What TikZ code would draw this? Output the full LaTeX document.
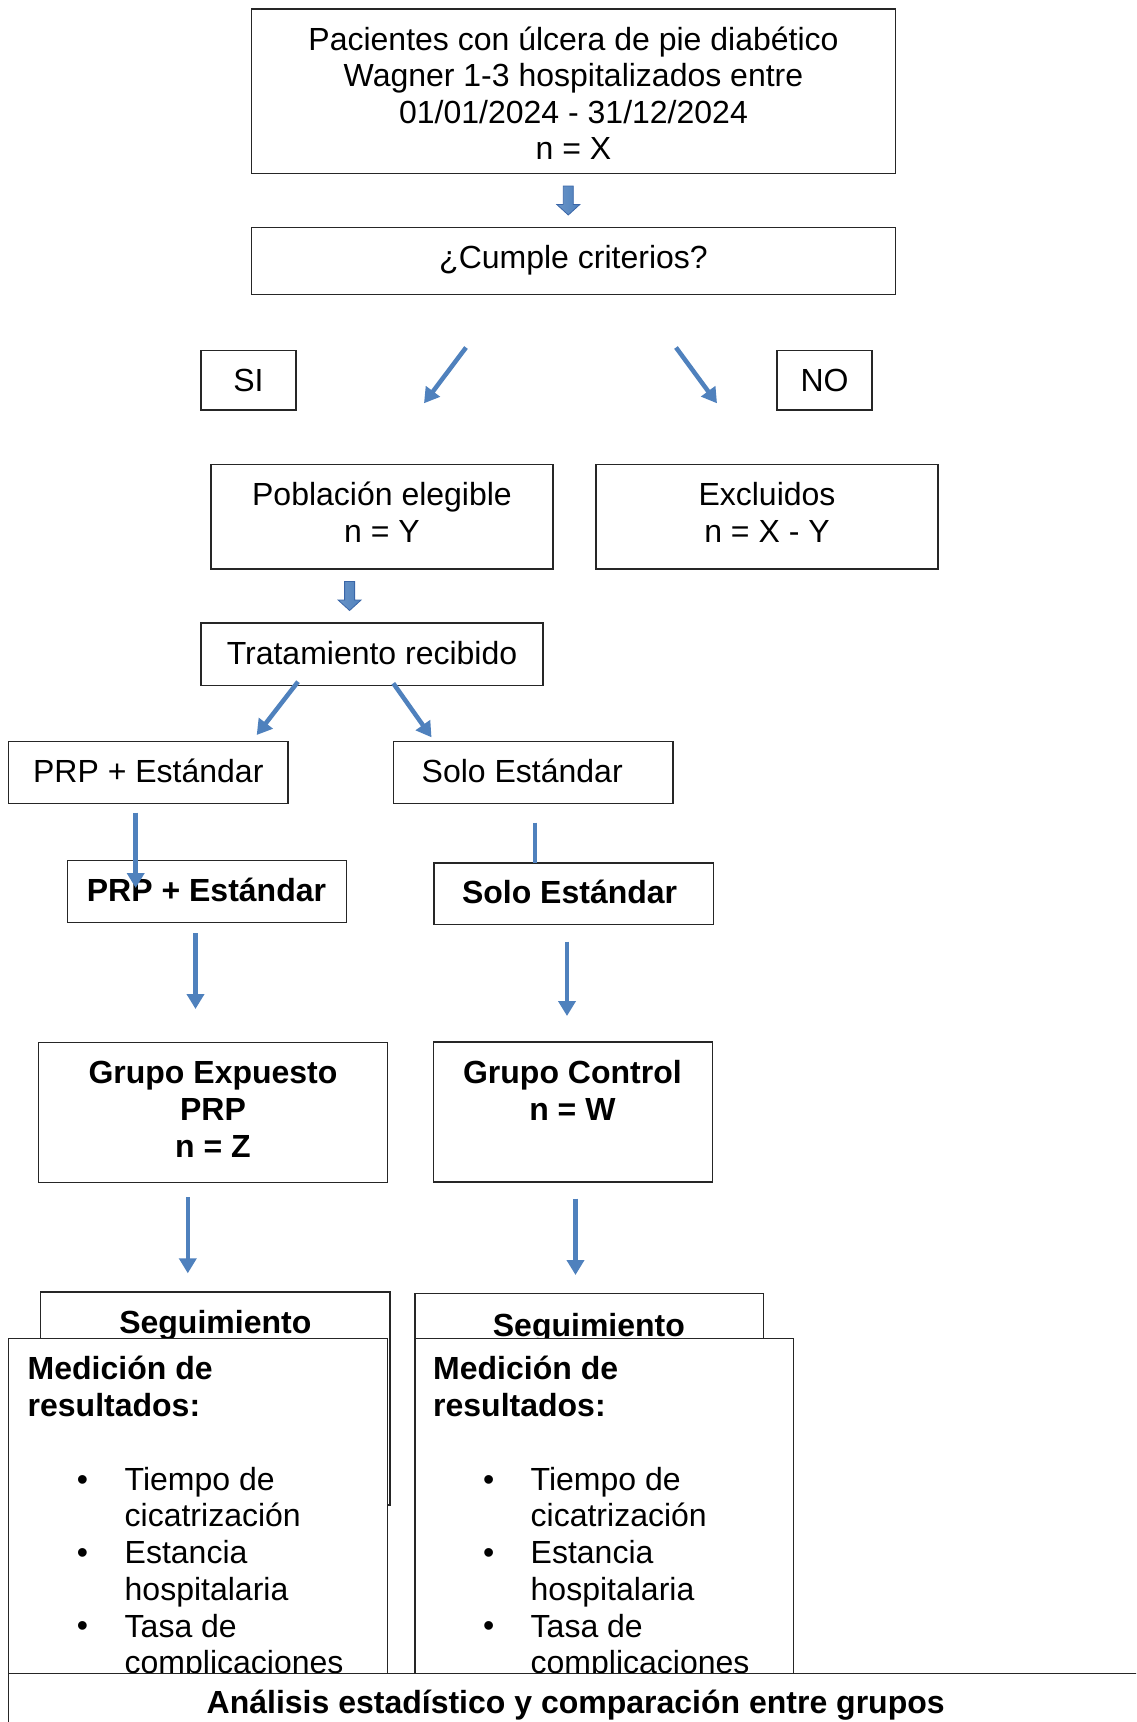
\documentclass[tikz,border=0pt]{standalone}
\usepackage{fontspec}
\setmainfont{Liberation Sans}
\usetikzlibrary{arrows.meta}
\definecolor{arrowblue}{HTML}{4F81BD}
\definecolor{blockline}{HTML}{3A66A8}
\definecolor{boxline}{HTML}{262626}
\newcommand\ls{\rule[-8pt]{0pt}{36.5pt}}
\begin{document}
\begin{tikzpicture}[x=1pt,y=-1pt,
  box/.style={draw=boxline, line width=1.3pt, fill=white, rectangle, inner sep=0pt},
  txt/.style={inner sep=0pt, font=\fontsize{32}{36.6}\selectfont, align=center},
  btxt/.style={inner sep=0pt, font=\fontsize{32}{36.7}\selectfont\bfseries, align=center},
  ltxt/.style={inner sep=0pt, font=\fontsize{32}{36.7}\selectfont, align=left},
  bltxt/.style={inner sep=0pt, font=\fontsize{32}{36.7}\selectfont\bfseries, align=left},
  arr/.style={draw=arrowblue, line width=4.5pt, -{Triangle[width=17pt,length=15pt]}},
  plainline/.style={draw=arrowblue, line width=4.5pt},
  blockarrow/.pic={\shadedraw[draw=blockline, line width=0.8pt, left color=arrowblue!85, middle color=arrowblue!30!white, right color=arrowblue]
     (-5,0) -- (5,0) -- (5,18.5) -- (11.5,18.5) -- (0,29) -- (-11.5,18.5) -- (-5,18.5) -- cycle;}
]
\useasboundingbox (0,0) rectangle (1136,1722);
\clip (0,0) rectangle (1136,1722);
\fill[white] (0,0) rectangle (1136,1722);

% top part
\node[box, minimum width=644pt, minimum height=164.5pt] (top) at (573.5,91.25) {};
\node[txt, anchor=north] (topt) at (573.5,21.4) {\ls Pacientes con úlcera de pie diabético\\\ls Wagner 1-3 hospitalizados entre\\\ls 01/01/2024 - 31/12/2024\\\ls n = X};
\pic (ba1) at (568.3,186) {blockarrow};
\node[box, minimum width=644pt, minimum height=67pt] (cumple) at (573.5,261) {};
\node[txt, anchor=base] (cumplet) at (573.5,268.4) {¿Cumple criterios?};

\node[box, minimum width=95pt, minimum height=59.5pt] (si) at (248.5,380.25) {};
\node[txt, anchor=base] (sit) at (248.5,391.4) {SI};
\node[box, minimum width=95pt, minimum height=59.5pt] (no) at (824.5,380.25) {};
\node[txt, anchor=base] (not) at (824.5,391.4) {NO};

\node[box, minimum width=342pt, minimum height=104.5pt] (pob) at (382,516.75) {};
\node[txt, anchor=north] (pobt) at (382,477) {\ls Población elegible\\\ls n = Y};
\node[box, minimum width=342pt, minimum height=104.5pt] (exc) at (767,516.75) {};
\node[txt, anchor=north] (exct) at (767,477) {\ls Excluidos\\\ls n = X - Y};

\pic (ba2) at (349.6,581.5) {blockarrow};
\node[box, minimum width=342pt, minimum height=62.5pt] (trat) at (372,654.25) {};
\node[txt, anchor=base] (tratt) at (372,664.8) {Tratamiento recibido};

\node[box, minimum width=279.5pt, minimum height=62.2pt] (prp) at (148.25,772.7) {};
\node[txt, anchor=base] (prpt) at (148.3,782.5) {PRP + Estándar};
\node[box, minimum width=279.7pt, minimum height=62.2pt] (solo) at (533.15,772.7) {};
\node[txt, anchor=base west] (solot) at (421.5,782.5) {Solo Estándar};

\node[box, minimum width=279.2pt, minimum height=62.3pt] (prpb) at (206.9,891.35) {};
\node[btxt, anchor=base] (prpbt) at (206.5,901.4) {PRP + Estándar};
\node[box, minimum width=279.5pt, minimum height=61.7pt] (solob) at (573.75,893.85) {};
\node[btxt, anchor=base] (solobt) at (569.6,903.1) {Solo Estándar};

\node[box, minimum width=349.3pt, minimum height=139.7pt] (gexp) at (213.05,1112.35) {};
\node[btxt, anchor=north, font=\fontsize{32}{37.2}\selectfont\bfseries] (gexpt) at (213,1054.7) {\ls Grupo Expuesto\\\ls PRP\\\ls n = Z};
\node[box, minimum width=279pt, minimum height=140pt] (gctl) at (573.3,1112) {};
\node[btxt, anchor=north, font=\fontsize{32}{37.2}\selectfont\bfseries] (gctlt) at (572.4,1054.7) {\ls Grupo Control\\\ls n = W};

% arrows
\coordinate (a1s) at (466,347.5);   \coordinate (a1e) at (424,403.3);
\coordinate (a2s) at (676,347.5);   \coordinate (a2e) at (717,403.3);
\coordinate (a3s) at (298,681.7);   \coordinate (a3e) at (256.7,735);
\coordinate (a4s) at (393.3,683.3); \coordinate (a4e) at (431.5,737.3);
\coordinate (a5s) at (135.7,812.7); \coordinate (a5e) at (135.7,888);
\coordinate (a6s) at (535,822.7);   \coordinate (a6e) at (535,862.5);
\coordinate (a7s) at (195.5,933);   \coordinate (a7e) at (195.5,1009);
\coordinate (a8s) at (567,941.5);   \coordinate (a8e) at (567,1016);
\coordinate (a9s) at (187.8,1197);  \coordinate (a9e) at (187.8,1273.3);
\coordinate (a10s) at (575.5,1198.5); \coordinate (a10e) at (575.5,1275);
\draw[arr] (a1s) -- (a1e);
\draw[arr] (a2s) -- (a2e);
\draw[arr] (a3s) -- (a3e);
\draw[arr] (a4s) -- (a4e);
\draw[arr] (a5s) -- (a5e);
\draw[plainline] (a6s) -- (a6e);
\draw[arr] (a7s) -- (a7e);
\draw[arr] (a8s) -- (a8e);
\draw[arr] (a9s) -- (a9e);
\draw[arr] (a10s) -- (a10e);

% follow-up boxes
\node[box, minimum width=349.4pt, minimum height=213pt] (segl) at (215.3,1398.5) {};
\node[btxt, anchor=base] (seglt) at (215.3,1333) {Seguimiento};
\node[box, minimum width=348.5pt, minimum height=211.5pt] (segr) at (589.25,1399.25) {};
\node[btxt, anchor=base] (segrt) at (588.9,1336) {Seguimiento};

\node[box, minimum width=379pt, minimum height=361.5pt] (medl) at (198.3,1519.25) {};
\node[bltxt, anchor=north west] (medlt) at (27.5,1350.9) {\ls Medición de\\\ls resultados:};
\node[txt, anchor=base] (bl1) at (82.6,1490) {•};
\node[txt, anchor=base] (bl2) at (82.6,1563.4) {•};
\node[txt, anchor=base] (bl3) at (82.6,1636.8) {•};
\node[ltxt, anchor=north west] (il1) at (124.5,1461.5) {\ls Tiempo de\\\ls cicatrización};
\node[ltxt, anchor=north west] (il2) at (124.5,1534.9) {\ls Estancia\\\ls hospitalaria};
\node[ltxt, anchor=north west] (il3) at (124.5,1608.3) {\ls Tasa de\\\ls complicaciones};

\node[box, minimum width=378.3pt, minimum height=361.5pt] (medr) at (604.15,1519.25) {};
\node[bltxt, anchor=north west] (medrt) at (433,1350.9) {\ls Medición de\\\ls resultados:};
\node[txt, anchor=base] (br1) at (488.6,1490) {•};
\node[txt, anchor=base] (br2) at (488.6,1563.4) {•};
\node[txt, anchor=base] (br3) at (488.6,1636.8) {•};
\node[ltxt, anchor=north west] (ir1) at (530.5,1461.5) {\ls Tiempo de\\\ls cicatrización};
\node[ltxt, anchor=north west] (ir2) at (530.5,1534.9) {\ls Estancia\\\ls hospitalaria};
\node[ltxt, anchor=north west] (ir3) at (530.5,1608.3) {\ls Tasa de\\\ls complicaciones};

\node[box, minimum width=1141.2pt, minimum height=86.5pt] (anal) at (579.4,1716.75) {};
\node[btxt, anchor=base] (analt) at (575.7,1713.2) {Análisis estadístico y comparación entre grupos};
\end{tikzpicture}
\end{document}
